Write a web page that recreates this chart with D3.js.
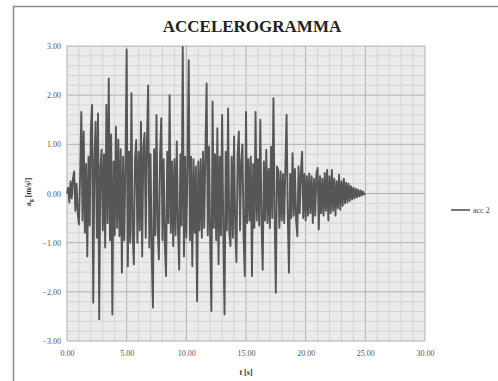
<!DOCTYPE html>
<html>
<head>
<meta charset="utf-8">
<script src="https://cdn.jsdelivr.net/npm/d3@7"></script>
<style>
  body { margin: 0; background: #fff; }
  svg text { font-family: "Liberation Serif", "Times New Roman", serif; }
</style>
</head>
<body>
<div class="chart"></div>
<script>
// sample step of the record (s)
const dt = 0.1;

// acceleration a_g [m/s^2], one value every dt
const acc2 = [
  0.00, 0.12, -0.18, 0.25, -0.10, 0.30, 0.45, -0.35, 0.20, -0.40,
  -0.63, 0.35, 1.66, -0.55, 1.26, -0.80, 0.60, -1.28, 0.75, -0.65,
  1.33, 1.80, -2.22, 0.70, 1.46, -0.90, 1.63, -2.56, 0.55, 0.89,
  -0.75, 0.80, -1.10, 1.80, -0.60, 2.34, -0.95, 1.20, -2.46, 0.65,
  -0.85, 1.36, -0.70, 1.10, -0.87, 0.90, -1.61, 0.75, -0.95, 0.60,
  2.93, -1.48, 0.85, -1.00, 2.04, -0.80, -1.44, 0.70, 1.09, -1.00,
  0.85, -0.75, 1.46, -1.28, 0.95, 1.23, -0.90, 1.05, 2.20, -1.10,
  0.80, -1.25, -2.32, 0.90, -0.85, 1.60, -0.70, -1.34, 0.80, 1.53,
  -0.95, 0.70, -1.05, -1.68, 0.85, -0.60, 2.00, -0.80, 0.65, -1.07,
  0.70, -0.85, 1.06, -0.70, -1.55, 0.80, -0.65, 2.98, -1.28, 0.75,
  -0.90, 0.60, 2.71, -0.95, 0.75, -1.48, 0.70, -0.80, 0.55, -2.19,
  0.65, -0.75, 0.70, -0.90, 0.85, -0.70, 0.90, 2.24, -0.85, 0.95,
  -1.00, -2.39, 1.87, -0.70, 0.80, -0.95, 1.33, -1.44, 0.75, -0.85,
  1.60, -0.80, -2.46, 0.85, -0.75, 1.73, -0.80, -1.07, 0.75, -0.90,
  1.16, -0.70, -1.40, 0.80, 1.26, -0.75, 0.65, 1.00, -0.90, -1.68,
  1.66, -0.60, 0.70, -0.55, 0.75, -1.68, 0.60, -0.70, 1.66, -0.55,
  0.70, -0.65, 1.50, -0.60, -1.55, 0.65, -0.55, 0.89, -0.60, 0.50,
  -0.70, 0.95, -0.50, 1.94, -0.45, -2.02, 0.55, 0.48, -0.70, 0.45,
  -0.55, 0.40, -0.60, 0.55, 1.60, -0.45, -1.61, 0.40, -0.50, 0.82,
  -0.45, 0.50, -0.55, -0.87, 0.55, -0.40, 0.45, 0.85, -0.50, 0.40,
  -0.55, 0.35, -0.45, 0.41, -0.40, 0.35, -0.60, 0.30, -0.45, 0.40,
  0.52, -0.73, 0.35, -0.40, 0.30, -0.45, 0.42, -0.35, 0.48, -0.55,
  0.35, -0.40, 0.48, -0.35, 0.30, -0.45, 0.25, -0.30, 0.38, -0.33,
  0.25, -0.25, 0.30, -0.20, 0.22, -0.18, 0.20, -0.15, 0.15, -0.12,
  0.12, -0.10, 0.10, -0.08, 0.08, -0.06, 0.06, -0.04, 0.04, -0.02,
  0.00
];

const xTicks = [0, 5, 10, 15, 20, 25, 30];
const yTicks = [-3, -2, -1, 0, 1, 2, 3];
const seriesName = 'acc 2';

const width = 498, height = 381;
const plot = { left: 67, right: 425, top: 46, bottom: 341 };

const svg = d3.select('.chart')
  .append('svg')
  .attr('width', width)
  .attr('height', height);

// chart frame
svg.append('rect')
  .attr('x', 13.5).attr('y', 6.5)
  .attr('width', 490).attr('height', 380)
  .attr('fill', '#fff')
  .attr('stroke', '#8a8a8a')
  .attr('stroke-width', 1.5);

const x = d3.scaleLinear().domain([0, 30]).range([plot.left, plot.right]);
const y = d3.scaleLinear().domain([-3, 3]).range([plot.bottom, plot.top]);

svg.append('rect')
  .attr('x', plot.left).attr('y', plot.top)
  .attr('width', plot.right - plot.left)
  .attr('height', plot.bottom - plot.top)
  .attr('fill', '#ebebeb');

// grid: 1 s / 0.2 m/s2, darker every 5 s / 1 m/s2
const grid = svg.append('g');
grid.selectAll('.vmin')
  .data(d3.range(0, 31, 1))
  .join('line')
  .attr('x1', d => x(d)).attr('x2', d => x(d))
  .attr('y1', plot.top).attr('y2', plot.bottom)
  .attr('stroke', d => d % 5 === 0 ? '#b0b0b0' : '#d4d4d4')
  .attr('stroke-width', 1);

grid.selectAll('.hmin')
  .data(d3.range(-15, 16, 1).map(v => v / 5))
  .join('line')
  .attr('x1', plot.left).attr('x2', plot.right)
  .attr('y1', d => y(d)).attr('y2', d => y(d))
  .attr('stroke', d => Math.abs(d - Math.round(d)) < 1e-6 ? '#b0b0b0' : '#d4d4d4')
  .attr('stroke-width', 1);

// axes
svg.append('g')
  .attr('transform', `translate(0,${plot.bottom})`)
  .call(d3.axisBottom(x).tickValues(xTicks).tickFormat(d3.format('.2f')).tickSize(0).tickPadding(9))
  .call(g => g.select('.domain').remove())
  .call(g => g.selectAll('text').attr('font-size', 8).attr('fill', '#555')
    .style('font-family', '"Liberation Serif", serif'));

svg.append('g')
  .attr('transform', `translate(${plot.left},0)`)
  .call(d3.axisLeft(y).tickValues(yTicks).tickFormat(d3.format('.2f')).tickSize(0).tickPadding(6))
  .call(g => g.select('.domain').remove())
  .call(g => g.selectAll('text').attr('font-size', 8).attr('fill', '#555')
    .style('font-family', '"Liberation Serif", serif'));

// the record
const line = d3.line()
  .x((d, i) => x(i * dt))
  .y(d => y(d));

svg.append('path')
  .datum(acc2)
  .attr('d', line)
  .attr('fill', 'none')
  .attr('stroke', '#565656')
  .attr('stroke-width', 1.9)
  .attr('stroke-linejoin', 'round');

// title and axis labels
svg.append('text')
  .attr('x', 252).attr('y', 32)
  .attr('text-anchor', 'middle')
  .attr('font-size', 17)
  .attr('font-weight', 'bold')
  .attr('fill', '#222')
  .text('ACCELEROGRAMMA');

svg.append('text')
  .attr('x', (plot.left + plot.right) / 2).attr('y', 375)
  .attr('text-anchor', 'middle')
  .attr('font-size', 8)
  .attr('font-weight', 'bold')
  .attr('fill', '#333')
  .text('t [s]');

const yLabel = svg.append('text')
  .attr('transform', 'translate(31,192) rotate(-90)')
  .attr('text-anchor', 'middle')
  .attr('font-size', 8)
  .attr('font-weight', 'bold')
  .attr('fill', '#333');
yLabel.append('tspan').text('a');
yLabel.append('tspan').attr('font-size', 6).attr('dy', 2).text('g');
yLabel.append('tspan').attr('dy', -2).text(' [m/s²]');

// legend
const legend = svg.append('g').attr('transform', 'translate(451,210)');
legend.append('line')
  .attr('x1', 0).attr('x2', 19)
  .attr('stroke', '#565656')
  .attr('stroke-width', 1.6);
legend.append('text')
  .attr('x', 22).attr('y', 3)
  .attr('font-size', 8)
  .attr('fill', '#444')
  .text(seriesName);
</script>
</body>
</html>
